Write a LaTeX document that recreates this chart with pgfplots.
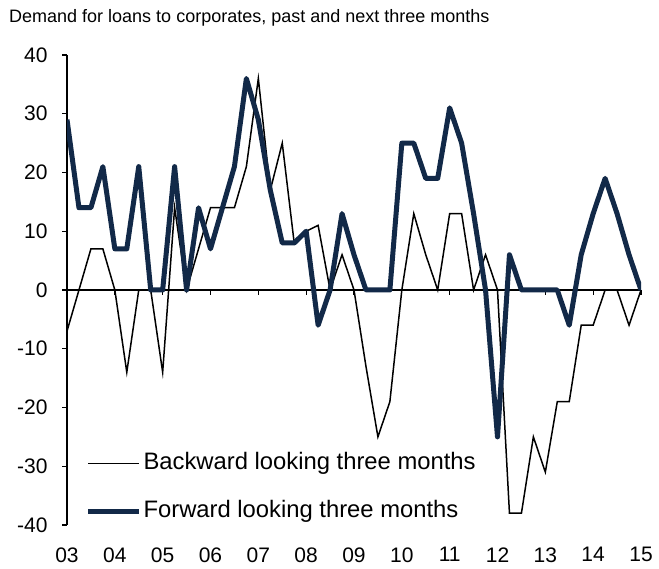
\documentclass[border=0pt]{standalone}
\usepackage{fontspec}
\setmainfont{Liberation Sans}
\usepackage{pgfplots}
\pgfplotsset{compat=1.18}
\definecolor{navy}{RGB}{18,41,72}

\begin{document}
\begin{tikzpicture}[x=1pt,y=1pt]
\path[use as bounding box] (0,0) rectangle (659,569);
\node[anchor=base west, inner sep=0, font=\fontsize{18}{20}\selectfont] at (9,546.5)
  {Demand for loans to corporates, past and next three months};
\begin{axis}[
  at={(67pt,44pt)}, anchor=south west,
  width=574pt, height=470pt, scale only axis,
  xmin=3, xmax=15, ymin=-40, ymax=40,
  axis x line=middle, axis y line=left,
  axis line style={-, line width=1.3pt},
  hide obscured x ticks=false, hide obscured y ticks=false,
  xtick={3,...,15},
  xticklabels={03,04,05,06,07,08,09,10,11,12,13,14,15},
  ytick={-40,-30,...,40},
  yticklabels={-40,-30,-20,-10,0,10,20,30,40},
  tick align=outside,
  major tick length=5pt,
  tick style={line width=1.3pt, black},
  tick label style={font=\fontsize{21}{23}\selectfont},
  xticklabel style={yshift=-249pt},
  yticklabel style={xshift=-11pt},
  legend cell align=left,
  legend style={draw=none, fill=none, at={(0.032,0.080)}, anchor=west,
    inner sep=0pt, row sep=22pt,
    nodes={inner sep=2pt, text height=17pt, text depth=5pt},
    font=\fontsize{23.8}{26}\selectfont},
  legend image code/.code={\draw[#1] (0pt,0pt) -- (51pt,0pt);},
]
\addplot[black, line width=1.5pt, line join=miter] coordinates {
  (3.00,-7)(3.25,0)(3.50,7)(3.75,7)
  (4.00,0)(4.25,-14)(4.50,0)(4.75,0)
  (5.00,-14)(5.25,14)(5.50,0)(5.75,7)
  (6.00,14)(6.25,14)(6.50,14)(6.75,21)
  (7.00,36)(7.25,17)(7.50,25)(7.75,8)
  (8.00,10)(8.25,11)(8.50,0)(8.75,6)
  (9.00,0)(9.25,-13)(9.50,-25)(9.75,-19)
  (10.00,0)(10.25,13)(10.50,6)(10.75,0)
  (11.00,13)(11.25,13)(11.50,0)(11.75,6)
  (12.00,0)(12.25,-38)(12.50,-38)(12.75,-25)
  (13.00,-31)(13.25,-19)(13.50,-19)(13.75,-6)
  (14.00,-6)(14.25,0)(14.50,0)(14.75,-6)
  (15.00,0)
};
\addlegendentry{Backward looking three months}
\addplot[navy, line width=5pt, line join=round] coordinates {
  (3.00,29)(3.25,14)(3.50,14)(3.75,21)
  (4.00,7)(4.25,7)(4.50,21)(4.75,0)
  (5.00,0)(5.25,21)(5.50,0)(5.75,14)
  (6.00,7)(6.25,14)(6.50,21)(6.75,36)
  (7.00,29)(7.25,17)(7.50,8)(7.75,8)
  (8.00,10)(8.25,-6)(8.50,0)(8.75,13)
  (9.00,6)(9.25,0)(9.50,0)(9.75,0)
  (10.00,25)(10.25,25)(10.50,19)(10.75,19)
  (11.00,31)(11.25,25)(11.50,13)(11.75,0)
  (12.00,-25)(12.25,6)(12.50,0)(12.75,0)
  (13.00,0)(13.25,0)(13.50,-6)(13.75,6)
  (14.00,13)(14.25,19)(14.50,13)(14.75,6)
  (15.00,0)
};
\addlegendentry{Forward looking three months}
\end{axis}
\end{tikzpicture}
\end{document}
